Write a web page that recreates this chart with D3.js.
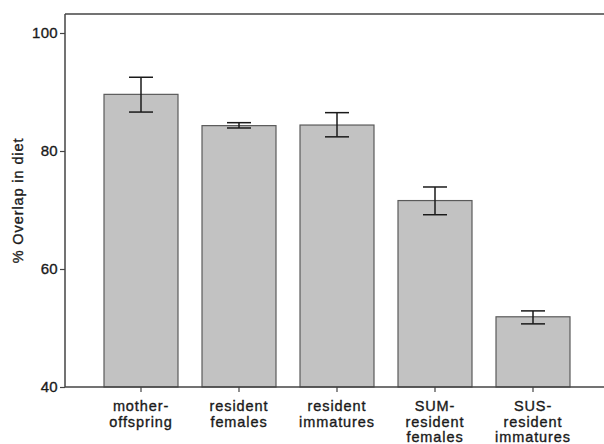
<!DOCTYPE html>
<html>
<head>
<meta charset="utf-8">
<script src="https://cdn.jsdelivr.net/npm/d3@7"></script>
<style>
  body { margin: 0; background: #fff; }
  text { font-family: "Liberation Sans", Arial, sans-serif; fill: #1a1a1a; stroke: #1a1a1a; stroke-width: 0.35px; }
</style>
</head>
<body>
<div id="chart"></div>
<script>
    // Data
    const categories = [
        ["mother-", "offspring"],
        ["resident", "females"],
        ["resident", "immatures"],
        ["SUM-", "resident", "females"],
        ["SUS-", "resident", "immatures"]
    ];
    const means = [89.6, 84.3, 84.4, 71.6, 51.9];
    const upper = [92.5, 84.8, 86.5, 73.9, 52.9];
    const lower = [86.6, 83.9, 82.4, 69.2, 50.7];
    const yTicks = [40, 60, 80, 100];

    const width = 604;
    const height = 444;
    const svg = d3.select("#chart")
        .append("svg")
        .attr("width", width)
        .attr("height", height);

    const plotLeft = 65, plotBottom = 387, plotTop = 14;

    const y = d3.scaleLinear().domain([40, 100]).range([plotBottom, 33]);
    const x = d3.scaleBand()
        .domain(d3.range(categories.length))
        .range([92, 582])
        .paddingInner(0.245)
        .paddingOuter(0.1225);

    // Frame top line
    svg.append("line")
        .attr("x1", plotLeft).attr("x2", width)
        .attr("y1", plotTop).attr("y2", plotTop)
        .attr("stroke", "#444").attr("stroke-width", 1.5);

    // Bars
    svg.append("g")
        .selectAll("rect")
        .data(means)
        .enter()
        .append("rect")
        .attr("x", (d, i) => x(i))
        .attr("width", x.bandwidth())
        .attr("y", d => y(d))
        .attr("height", d => plotBottom - y(d))
        .attr("fill", "#c2c2c2")
        .attr("stroke", "#5a5a5a")
        .attr("stroke-width", 1.2);

    // Error bars
    const eb = svg.append("g").attr("stroke", "#1a1a1a").attr("stroke-width", 1.5);
    means.forEach((m, i) => {
        const cx = x(i) + x.bandwidth() / 2;
        eb.append("line").attr("x1", cx).attr("x2", cx).attr("y1", y(upper[i])).attr("y2", y(lower[i]));
        eb.append("line").attr("x1", cx - 12).attr("x2", cx + 12).attr("y1", y(upper[i])).attr("y2", y(upper[i]));
        eb.append("line").attr("x1", cx - 12).attr("x2", cx + 12).attr("y1", y(lower[i])).attr("y2", y(lower[i]));
    });

    // Y axis
    const yAxis = svg.append("g")
        .attr("transform", `translate(${plotLeft},0)`)
        .call(d3.axisLeft(y).tickValues(yTicks).tickSize(5).tickPadding(2));
    yAxis.select(".domain").remove();
    yAxis.selectAll(".tick line").attr("stroke", "#444").attr("stroke-width", 1.2);
    yAxis.selectAll(".tick text")
        .attr("font-size", 15)
        .attr("letter-spacing", 0.3)
        .style("font-family", "Liberation Sans, Arial, sans-serif")
        .attr("fill", "#1a1a1a");
    svg.append("line")
        .attr("x1", plotLeft).attr("x2", plotLeft)
        .attr("y1", plotTop).attr("y2", plotBottom)
        .attr("stroke", "#444").attr("stroke-width", 1.5);

    // X axis
    svg.append("line")
        .attr("x1", plotLeft).attr("x2", width)
        .attr("y1", plotBottom).attr("y2", plotBottom)
        .attr("stroke", "#444").attr("stroke-width", 1.5);

    const xt = svg.append("g")
        .selectAll("g")
        .data(categories)
        .enter()
        .append("g")
        .attr("transform", (d, i) => `translate(${x(i) + x.bandwidth() / 2},${plotBottom})`);
    xt.append("line").attr("y1", 0).attr("y2", 5).attr("stroke", "#444").attr("stroke-width", 1.2);
    xt.each(function(d) {
        const t = d3.select(this).append("text")
            .attr("text-anchor", "middle")
            .attr("font-size", 14.5)
            .attr("letter-spacing", 0.9);
        d.forEach((line, k) => {
            t.append("tspan").attr("x", 0).attr("y", 24 + k * 15.5).text(line);
        });
    });

    // Y label
    svg.append("text")
        .attr("transform", `translate(23,${(plotTop + plotBottom) / 2}) rotate(-90)`)
        .attr("text-anchor", "middle")
        .attr("font-size", 14.5)
        .attr("letter-spacing", 0.9)
        .text("% Overlap in diet");
</script>
</body>
</html>
